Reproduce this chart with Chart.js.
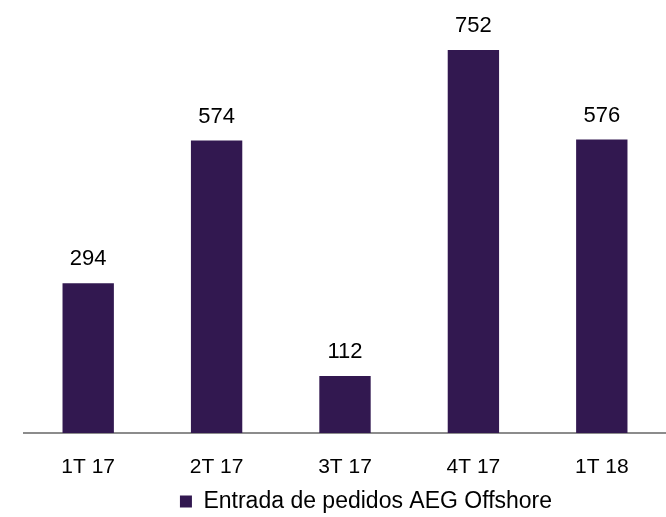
<!DOCTYPE html>
<html>
<head>
<meta charset="utf-8">
<script src="https://cdn.jsdelivr.net/npm/chart.js@4.4.0/dist/chart.umd.min.js"></script>
<style>
  body { margin: 0; background: #fff; }
  #wrap { width: 666px; height: 517px; position: relative; }
</style>
</head>
<body>
<div id="wrap"><canvas id="orders-chart"></canvas></div>
<script>
const QUARTERS = ['1T 17', '2T 17', '3T 17', '4T 17', '1T 18'];
const ORDER_INTAKE = [294, 574, 112, 752, 576];
const SERIES_LABEL = 'Entrada de pedidos AEG Offshore';

const BAR_COLOR = '#321850';
const FONT = 'Liberation Sans, Arial, sans-serif';

// draws the value above each bar
const valueLabels = {
    id: 'valueLabels',
    afterDatasetsDraw(chart) {
        const ctx = chart.ctx;
        const meta = chart.getDatasetMeta(0);
        ctx.save();
        ctx.font = '22px ' + FONT;
        ctx.fillStyle = '#000';
        ctx.textAlign = 'center';
        ctx.textBaseline = 'alphabetic';
        meta.data.forEach((bar, i) => {
            ctx.fillText(chart.data.datasets[0].data[i], bar.x, bar.y - 18);
        });
        ctx.restore();
    },
};

// the legend sits a little right of centre in the original
const nudgeLegend = {
    id: 'nudgeLegend',
    afterLayout(chart) {
        chart.legend.left += 21;
        chart.legend.right += 21;
    },
};

const config = {
    type: 'bar',
    data: {
        labels: QUARTERS,
        datasets: [
            {
                label: SERIES_LABEL,
                data: ORDER_INTAKE,
                backgroundColor: BAR_COLOR,
                barPercentage: 0.4,
                categoryPercentage: 1,
            },
        ],
    },
    options: {
        responsive: true,
        maintainAspectRatio: false,
        animation: false,
        layout: { padding: { left: 24, right: 0, top: 0, bottom: -6 } },
        plugins: {
            tooltip: { enabled: false },
            legend: {
                position: 'bottom',
                labels: {
                    boxWidth: 12,
                    boxHeight: 12,
                    color: '#000',
                    padding: 0,
                    font: { family: FONT, size: 23 },
                },
            },
        },
        scales: {
            x: {
                grid: { display: false, drawTicks: false },
                border: { display: true, color: '#8c8c8c', width: 2 },
                ticks: {
                    color: '#000',
                    padding: 22,
                    font: { family: FONT, size: 21 },
                },
                afterFit(scale) {
                    scale.height = 57;
                },
            },
            y: {
                display: false,
                min: 0,
                max: 850,
            },
        },
    },
    plugins: [valueLabels, nudgeLegend],
};

new Chart(document.getElementById('orders-chart'), config);
</script>
</body>
</html>
